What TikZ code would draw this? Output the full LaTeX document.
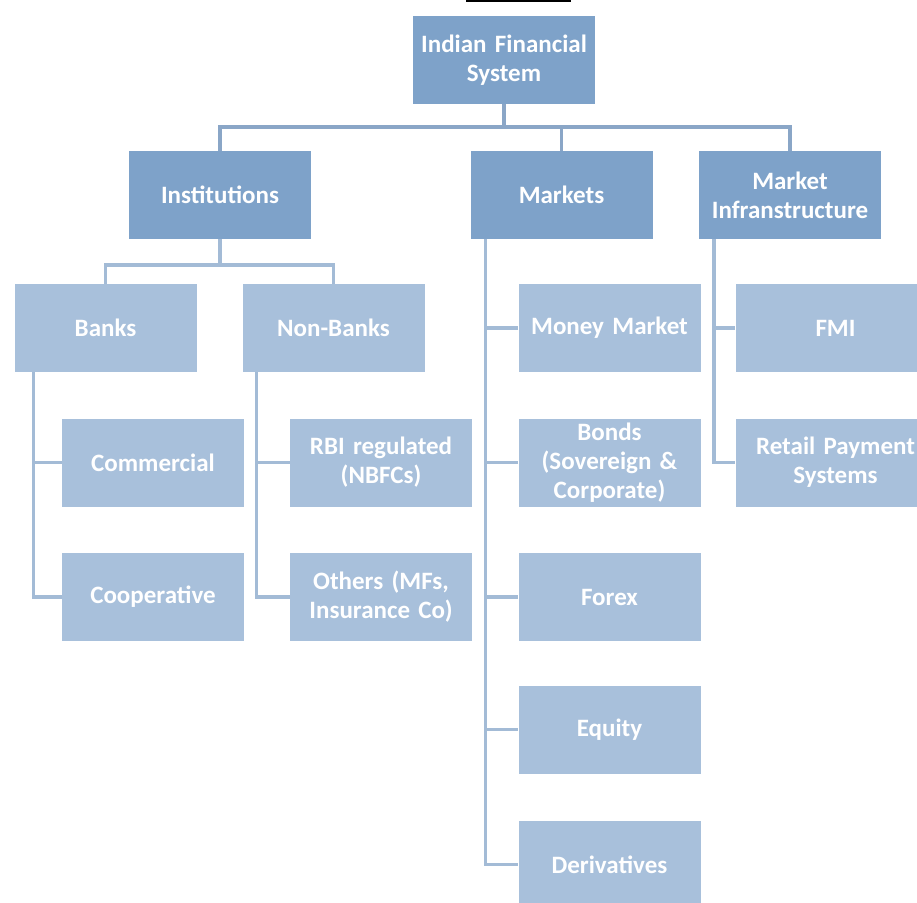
\documentclass[tikz,border=0pt]{standalone}
\usepackage{fontspec}
\setmainfont{Carlito}
\usepackage{xcolor}
\usepackage{tikz}

\definecolor{topblue}{RGB}{126,162,201}
\definecolor{lowblue}{RGB}{168,192,219}
\definecolor{linedark}{RGB}{138,166,199}
\definecolor{linelight}{RGB}{163,187,214}

\begin{document}
\begin{tikzpicture}[x=1pt,y=-1pt,
    box/.style={shape=rectangle, minimum width=182pt, minimum height=88pt, inner sep=0pt,
      text width=180pt, align=center, text=white, font=\fontsize{25}{29}\selectfont\bfseries},
    topbox/.style={box, fill=topblue},
    subbox/.style={box, fill=lowblue},
    link/.style={line width=3.5pt, linedark},
    sublink/.style={line width=3.5pt, linelight}]
    \useasboundingbox (0,0) rectangle (917,902);
    \clip (0,0) rectangle (917,902);
    \fill[white] (0,0) rectangle (917,902);

    \draw[black, line width=1.5pt] (466,0.8) -- (571,0.8);

    % top levels
    \node[topbox] (ifs) at (504,60) {Indian Financial\\System};
    \node[topbox] (inst) at (220,195) {Institutions};
    \node[topbox] (mkt) at (561.5,195) {Markets};
    \node[topbox] (minf) at (790,195) {Market\\Infranstructure};

    % institutions
    \node[subbox] (banks) at (105.5,328) {Banks};
    \node[subbox] (nonbanks) at (333.5,328) {Non-Banks};
    \node[subbox] (comm) at (153,462.5) {Commercial};
    \node[subbox] (coop) at (153,597) {Cooperative};
    \node[subbox] (rbi) at (381,462.5) {RBI regulated\\(NBFCs)};
    \node[subbox] (others) at (381,597) {Others (MFs,\\Insurance Co)};

    % markets
    \node[subbox] (money) at (609.5,328) {Money Market};
    \node[subbox] (bonds) at (609.5,462.5) {Bonds\\(Sovereign \&\\Corporate)};
    \node[subbox] (forex) at (609.5,597) {Forex};
    \node[subbox] (equity) at (609.5,729.5) {Equity};
    \node[subbox] (deriv) at (609.5,864.5) {Derivatives};

    % infrastructure
    \node[subbox, text width=200pt] (fmi) at (835.5,328) {FMI};
    \node[subbox, text width=200pt] (retail) at (835.5,462.5) {Retail Payment\\Systems};

    \draw[link] (ifs.south) -- ++(0,23) -| (inst.north);
    \draw[link] (ifs.south) -- ++(0,23) -| (mkt.north);
    \draw[link] (ifs.south) -- ++(0,23) -| (minf.north);

    \draw[sublink] (inst.south) -- ++(0,26) -| (banks.north);
    \draw[sublink] (inst.south) -- ++(0,26) -| (nonbanks.north);

    \draw[sublink] ([xshift=19pt]banks.south west) |- (comm.west);
    \draw[sublink] ([xshift=19pt]banks.south west) |- (coop.west);
    \draw[sublink] ([xshift=14pt]nonbanks.south west) |- (rbi.west);
    \draw[sublink] ([xshift=14pt]nonbanks.south west) |- (others.west);

    \foreach \n in {money,bonds,forex,equity,deriv}
      \draw[sublink] ([xshift=15pt]mkt.south west) |- (\n.west);
    \foreach \n in {fmi,retail}
      \draw[sublink] ([xshift=15pt]minf.south west) |- (\n.west);
  \end{tikzpicture}
\end{document}
